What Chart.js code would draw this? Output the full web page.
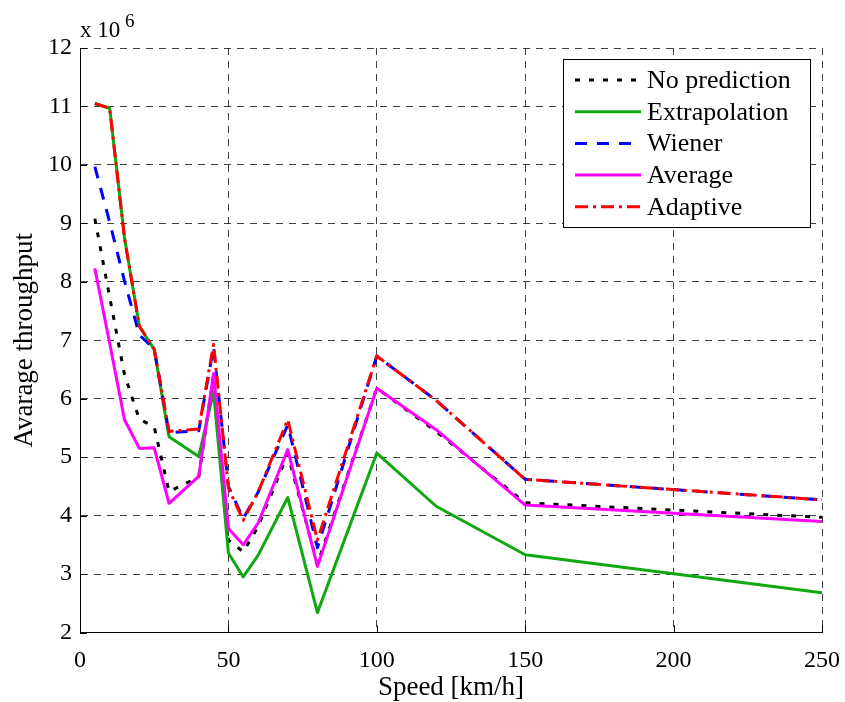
<!DOCTYPE html>
<html>
<head>
<meta charset="utf-8">
<script src="https://cdn.jsdelivr.net/npm/chart.js@4/dist/chart.umd.min.js"></script>
<style>
  html, body { margin: 0; padding: 0; background: #fff; }
  canvas { display: block; }
</style>
</head>
<body>
<canvas id="chart" width="845" height="702"></canvas>
<script>
// Speed in km/h
const speeds = [5, 10, 15, 20, 25, 30, 40, 45, 50, 55, 60, 70, 80, 100, 120, 150, 250];

// Average throughput, in units of 10^6
const noPrediction  = [9.08, 7.74, 6.41, 5.65, 5.52, 4.41, 4.66, 6.40, 3.58, 3.38, 3.81, 5.05, 3.17, 6.18, 5.44, 4.22, 3.97];
const extrapolation = [11.05, 10.97, 8.75, 7.24, 6.84, 5.35, 5.01, 6.12, 3.36, 2.95, 3.32, 4.31, 2.34, 5.07, 4.16, 3.33, 2.68];
const wiener        = [9.97, 9.02, 8.01, 7.09, 6.85, 5.42, 5.45, 6.88, 4.50, 3.95, 4.40, 5.55, 3.45, 6.73, 5.97, 4.62, 4.27];
const average       = [8.23, 6.95, 5.64, 5.15, 5.16, 4.21, 4.67, 6.43, 3.78, 3.50, 3.87, 5.13, 3.13, 6.18, 5.47, 4.18, 3.90];
const adaptive      = [11.05, 10.97, 8.75, 7.24, 6.85, 5.44, 5.48, 6.93, 4.47, 3.92, 4.40, 5.64, 3.58, 6.73, 5.97, 4.62, 4.27];

const seriesNames = ['No prediction', 'Extrapolation', 'Wiener', 'Average', 'Adaptive'];

// Axis ticks
const xTicks = [0, 50, 100, 150, 200, 250];
const yTicks = [2, 3, 4, 5, 6, 7, 8, 9, 10, 11, 12];

const FONT = "'Liberation Serif', 'Times New Roman', serif";
Chart.defaults.font.family = FONT;
Chart.defaults.color = '#000';

const styles = [
  { color: '#000000', dash: [5, 9] },
  { color: '#10a810', dash: [] },
  { color: '#0000ff', dash: [12, 10] },
  { color: '#ff00ff', dash: [] },
  { color: '#ff0000', dash: [13, 5, 3, 5] }
];
const values = [noPrediction, extrapolation, wiener, average, adaptive];

const datasets = values.map((arr, i) => ({
  label: seriesNames[i],
  data: speeds.map((s, k) => ({ x: s, y: arr[k] })),
  borderColor: styles[i].color,
  backgroundColor: styles[i].color,
  borderDash: styles[i].dash,
  borderWidth: 3,
  borderJoinStyle: 'round',
  pointRadius: 0,
  tension: 0,
  fill: false,
  order: values.length - i   // later series are painted on top
}));

// Inward tick marks, exponent label and the boxed legend
const decorations = {
  id: 'decorations',
  afterDraw(chart) {
    const ctx = chart.ctx;
    const area = chart.chartArea;
    const xs = chart.scales.x, ys = chart.scales.y;
    ctx.save();
    ctx.strokeStyle = '#000';
    ctx.lineWidth = 1;
    ctx.setLineDash([]);
    ctx.beginPath();
    xTicks.forEach(t => {
      const px = Math.round(xs.getPixelForValue(t)) + 0.5;
      ctx.moveTo(px, area.bottom);
      ctx.lineTo(px, area.bottom - 7);
    });
    yTicks.forEach(t => {
      const py = Math.round(ys.getPixelForValue(t)) + 0.5;
      ctx.moveTo(area.left, py);
      ctx.lineTo(area.left + 7, py);
    });
    ctx.stroke();

    // exponent
    ctx.fillStyle = '#000';
    ctx.textBaseline = 'alphabetic';
    ctx.textAlign = 'left';
    ctx.font = '23px ' + FONT;
    ctx.fillText('x 10', area.left, 37);
    ctx.font = '19px ' + FONT;
    ctx.fillText('6', 125, 27);

    // legend
    const lx = 563, ly = 59, lw = 247, lh = 168;
    ctx.fillStyle = '#fff';
    ctx.fillRect(lx, ly, lw, lh);
    ctx.strokeStyle = '#000';
    ctx.lineWidth = 1;
    ctx.strokeRect(lx + 0.5, ly + 0.5, lw, lh);
    ctx.font = '26px ' + FONT;
    ctx.textBaseline = 'middle';
    chart.data.datasets.forEach((ds, i) => {
      const y = 80 + i * 31.7;
      ctx.strokeStyle = ds.borderColor;
      ctx.lineWidth = 3;
      ctx.setLineDash(ds.borderDash);
      ctx.beginPath();
      ctx.moveTo(575, y);
      ctx.lineTo(641, y);
      ctx.stroke();
      ctx.setLineDash([]);
      ctx.fillStyle = '#000';
      ctx.fillText(ds.label, 647, y + 1);
    });
    ctx.restore();
  }
};

new Chart(document.getElementById('chart'), {
  type: 'line',
  data: { datasets },
  options: {
    responsive: false,
    animation: false,
    layout: { padding: { top: 48, right: 23, left: 0, bottom: 0 } },
    plugins: { legend: { display: false }, tooltip: { enabled: false } },
    scales: {
      x: {
        type: 'linear',
        min: 0, max: 250,
        afterBuildTicks: s => { s.ticks = xTicks.map(v => ({ value: v })); },
        afterFit: s => { s.height = 69.5; s.paddingLeft = 0; s.paddingRight = 0; },
        ticks: { font: { size: 24 }, padding: 14, maxRotation: 0, color: '#000' },
        grid: { color: 'rgba(0,0,0,0.75)', lineWidth: 1, drawTicks: false },
        border: { display: true, color: '#000', width: 1, dash: [7, 6] },
        title: { display: true, text: 'Speed [km/h]', font: { size: 27 }, padding: { top: 0, bottom: -2 }, color: '#000' }
      },
      y: {
        type: 'linear',
        min: 2, max: 12,
        afterBuildTicks: s => { s.ticks = yTicks.map(v => ({ value: v })); },
        afterFit: s => { s.width = 80; s.paddingTop = 0; s.paddingBottom = 0; },
        ticks: { font: { size: 24 }, padding: 8, color: '#000' },
        grid: { color: 'rgba(0,0,0,0.75)', lineWidth: 1, drawTicks: false },
        border: { display: true, color: '#000', width: 1, dash: [7, 6] },
        title: { display: true, text: 'Avarage throughput', font: { size: 27 }, padding: { top: 9, bottom: 0 }, color: '#000' }
      }
    }
  },
  plugins: [decorations]
});
</script>
</body>
</html>
